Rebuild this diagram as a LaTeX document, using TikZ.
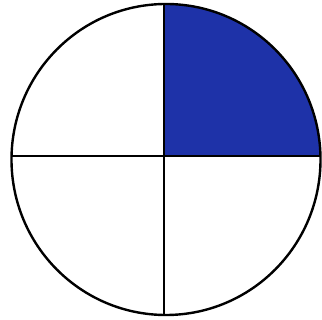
\documentclass[tikz,border=0pt]{standalone}
\definecolor{quarterblue}{RGB}{30,50,168}
\begin{document}
\begin{tikzpicture}[x=1pt,y=-1pt,
  outline/.style={draw=black,line width=2.4pt},
  axis/.style={draw=black,line width=2pt}]
\useasboundingbox (0,0) rectangle (322,320);
\fill[white] (0,0) rectangle (322,320);
\begin{scope}
  \clip (166,159.5) ellipse [x radius=154.5, y radius=155.5];
  \fill[quarterblue] (164,156) rectangle (330,0);
\end{scope}
\draw[outline] (166,159.5) ellipse [x radius=154.5, y radius=155.5];
\draw[axis] (164,4) -- (164,315);
\draw[axis] (12,156) -- (321,156);
\end{tikzpicture}
\end{document}
